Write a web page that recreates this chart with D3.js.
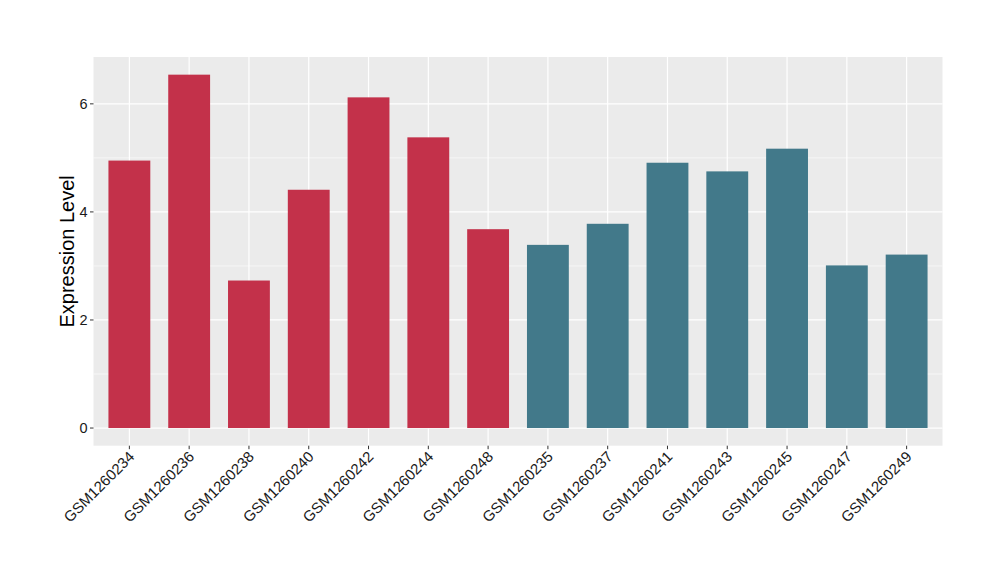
<!DOCTYPE html>
<html><head><meta charset="utf-8">
<script src="https://cdn.jsdelivr.net/npm/d3@7"></script>
<style>body{margin:0;background:#fff}svg{display:block}text{font-family:"Liberation Sans",Arial,sans-serif}</style>
</head><body>
<svg id="c" width="1000" height="580"></svg>
<script>
const samples = ["GSM1260234","GSM1260236","GSM1260238","GSM1260240","GSM1260242","GSM1260244","GSM1260248","GSM1260235","GSM1260237","GSM1260241","GSM1260243","GSM1260245","GSM1260247","GSM1260249"];
const values = [4.95,6.54,2.73,4.41,6.12,5.38,3.68,3.39,3.78,4.91,4.75,5.17,3.01,3.21];
const groups = ["A","A","A","A","A","A","A","B","B","B","B","B","B","B"];
const groupColors = {A:"#C3314A", B:"#42798A"};
const yTicks = [0,2,4,6];
const yMinor = [1,3,5];

const svg = d3.select("#c");
const L = 93.5, R = 942.5, T = 57, B = 445.7;
const maxV = d3.max(values);
const y = d3.scaleLinear().domain([-0.05*maxV, 1.05*maxV]).range([B, T]);
// ggplot-like discrete scale: expand 0.6 units each side, bar width 0.7
const xs = d3.scaleLinear().domain([0.4, samples.length + 0.6]).range([L, R]);
const xc = d => xs(samples.indexOf(d) + 1);
const bw = xs(1.7) - xs(1);

svg.append("rect").attr("x", L).attr("y", T).attr("width", R - L).attr("height", B - T).attr("fill", "#EBEBEB");
svg.selectAll(".minor").data(yMinor).enter().append("line")
  .attr("x1", L).attr("x2", R).attr("y1", d => y(d)).attr("y2", d => y(d))
  .attr("stroke", "#fff").attr("stroke-width", 0.6);
svg.selectAll(".major").data(yTicks).enter().append("line")
  .attr("x1", L).attr("x2", R).attr("y1", d => y(d)).attr("y2", d => y(d))
  .attr("stroke", "#fff").attr("stroke-width", 1.2);
svg.selectAll(".vmajor").data(samples).enter().append("line")
  .attr("x1", d => xc(d)).attr("x2", d => xc(d)).attr("y1", T).attr("y2", B)
  .attr("stroke", "#fff").attr("stroke-width", 1.2);

svg.selectAll(".bar").data(samples).enter().append("rect")
  .attr("x", d => xc(d) - bw / 2).attr("width", bw)
  .attr("y", (d, i) => y(values[i])).attr("height", (d, i) => y(0) - y(values[i]))
  .attr("fill", (d, i) => groupColors[groups[i]]);

// y axis
const ya = svg.append("g");
yTicks.forEach(t => {
  ya.append("line").attr("x1", L - 3.5).attr("x2", L).attr("y1", y(t)).attr("y2", y(t)).attr("stroke", "#333").attr("stroke-width", 1);
  ya.append("text").attr("x", L - 6).attr("y", y(t)).attr("dy", "0.36em").attr("text-anchor", "end")
    .attr("font-size", 14.5).attr("fill", "#1a1a1a").text(t);
});
// x axis
const xa = svg.append("g");
samples.forEach(s => {
  xa.append("line").attr("x1", xc(s)).attr("x2", xc(s)).attr("y1", B).attr("y2", B + 3.5).attr("stroke", "#333").attr("stroke-width", 1);
  xa.append("text").attr("transform", `translate(${xc(s) + 6},${B + 12}) rotate(-45)`)
    .attr("text-anchor", "end").attr("font-size", 15).attr("fill", "#1a1a1a").text(s);
});
svg.append("text").attr("transform", `translate(74,${(T + B) / 2}) rotate(-90)`)
  .attr("text-anchor", "middle").attr("font-size", 20).attr("fill", "#000").text("Expression Level");
</script>
</body></html>
